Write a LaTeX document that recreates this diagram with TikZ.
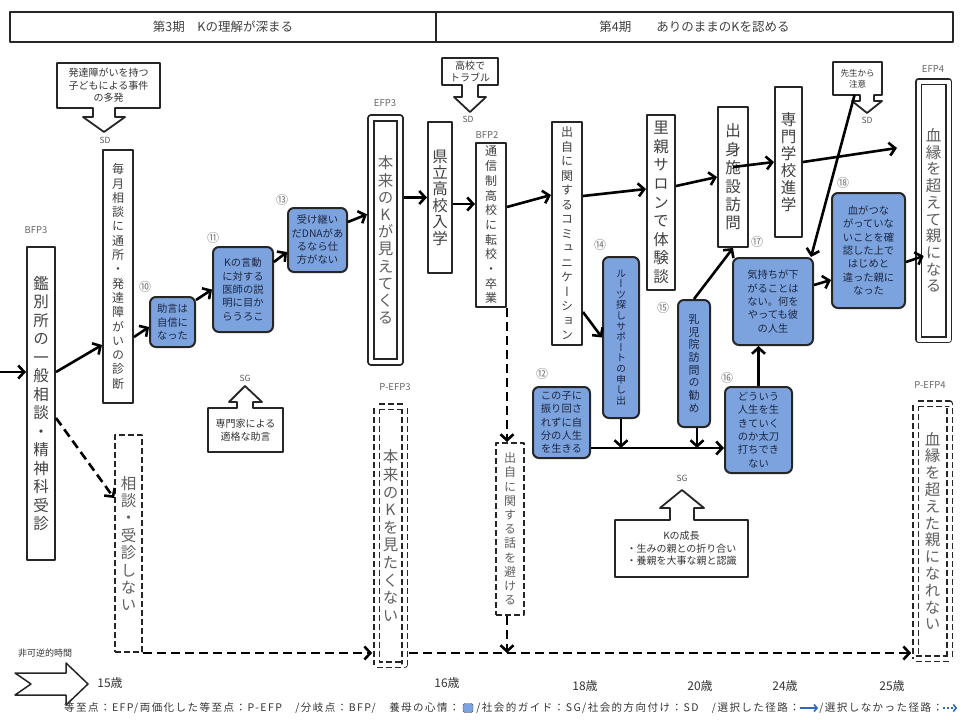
\documentclass[tikz,border=0pt]{standalone}
\usepackage{fontspec}
\setmainfont{Noto Sans CJK JP}
\newfontfamily\vjp[RawFeature=+vert]{Noto Sans CJK JP}
\newfontfamily\lgfont[LetterSpace=14]{Noto Sans CJK JP}
\usetikzlibrary{arrows.meta,positioning}
\definecolor{boxblue}{RGB}{124,163,222}
\definecolor{inkblue}{RGB}{28,38,66}
\definecolor{efpgray}{RGB}{95,95,95}
\definecolor{lgblue}{RGB}{46,105,190}
% Text von oben nach unten
\makeatletter
\newcommand\tate[2][14pt]{\vbox{\baselineskip=#1\relax\lineskiplimit=-50pt\lineskip=0pt\tate@#2\@nil}}
\def\tate@#1{\ifx#1\@nil\else\hbox to 1em{\hss\vjp#1\hss}\expandafter\tate@\fi}
\makeatother
\begin{document}
\begin{tikzpicture}[x=1pt, y=-1pt, line join=round,
  period/.style={draw=black!85, line width=1.5pt, minimum height=30pt, inner sep=0pt, text=black!75, font=\fontsize{12.5}{13}\selectfont},
  wbox/.style={draw=black!85, line width=2pt, fill=white, inner sep=0pt, text=black!75, font=\fontsize{12}{12}\selectfont},
  bigtext/.style={font=\fontsize{15.5}{16}\selectfont},
  bluebox/.style={draw=black!85, line width=2pt, fill=boxblue, rounded corners=6pt, inner sep=0pt, text=inkblue, font=\fontsize{10.3}{13.3}\selectfont},
  bbox/.style={bluebox, align=center},
  efp/.style={draw=black!85, double, double distance=4pt, line width=1.6pt, inner sep=0pt, text=efpgray},
  pefp/.style={efp, dash pattern=on 6pt off 3pt},
  nobox/.style={wbox, dash pattern=on 6pt off 3pt, text=efpgray},
  callout/.style={draw=black!85, line width=1.8pt, fill=white},
  note/.style={align=center, inner sep=0pt, text=black!80, font=\fontsize{10}{12.5}\selectfont},
  tag/.style={text=black!65, inner sep=0pt, font=\fontsize{8.5}{9}\selectfont},
  fp/.style={text=black!60, inner sep=0pt, font=\fontsize{9.5}{10}\selectfont},
  num/.style={text=black!55, inner sep=0pt, font=\fontsize{12}{12}\selectfont},
  age/.style={text=black!80, inner sep=0pt, font=\fontsize{12}{12}\selectfont},
  legend/.style={text=black!80, inner sep=0pt, font=\lgfont\fontsize{10.5}{10.5}\selectfont},
  arr/.style={line width=2.6pt, -{Straight Barb[length=6pt, width=13pt]}},
  darr/.style={arr, dash pattern=on 9pt off 5pt},
]
\useasboundingbox (0,0) rectangle (962,720);

% Kopfzeile
\node[period, minimum width=426pt] (p3) at (223,27) {第3期　Kの理解が深まる};
\node[period, minimum width=517pt] (p4) at (694.5,27) {第4期　　ありのままのKを認める};

% SD / SG
\draw[callout] (57,63) -- (160,63) -- (160,108) -- (115,108) -- (115,117) -- (125,117) -- (104,132)
  -- (83,117) -- (93,117) -- (93,108) -- (57,108) -- cycle;
\node[note, minimum width=103pt, minimum height=45pt] (sdincident) at (108.5,85.5) {発達障がいを持つ\\子どもによる事件\\の多発};
\node[tag] (sd1) at (105,140) {SD};
\draw[callout] (442,58) -- (498,58) -- (498,85) -- (478,85) -- (478,97) -- (486,97) -- (470,112)
  -- (454,97) -- (462,97) -- (462,85) -- (442,85) -- cycle;
\node[note, minimum width=56pt, minimum height=27pt] (sdtrouble) at (470,71.5) {高校で\\トラブル};
\node[tag] (sd2) at (468,119) {SD};
\draw[callout] (833,62) -- (882,62) -- (882,95) -- (874,95) -- (874,101) -- (882,101) -- (867,113)
  -- (852,101) -- (860,101) -- (860,95) -- (833,95) -- cycle;
\node[note, font=\fontsize{8.5}{11}\selectfont, minimum width=49pt, minimum height=33pt] (sdteacher) at (857.5,78.5) {先生から\\注意};
\node[tag] (sd3) at (867,120) {SD};
\draw[callout] (208,408) -- (237,408) -- (237,402) -- (229,402) -- (245,386) -- (262,402) -- (253,402)
  -- (253,408) -- (283,408) -- (283,452) -- (208,452) -- cycle;
\node[note, minimum width=75pt, minimum height=44pt] (sgexpert) at (245.5,430) {専門家による\\適格な助言};
\node[tag] (sg1) at (245,378) {SG};
\draw[callout] (615,520) -- (670,520) -- (670,508) -- (660,508) -- (682,490) -- (704,508) -- (694,508)
  -- (694,520) -- (748,520) -- (748,577) -- (615,577) -- cycle;
\node[note, minimum width=133pt, minimum height=57pt] (sggrowth) at (681.5,548.5) {Kの成長\\・生みの親との折り合い\\・養親を大事な親と認識};
\node[tag] (sg2) at (682,478) {SG};

% Stationen
\node[wbox, bigtext, minimum width=28pt, minimum height=313pt] (bfp3) at (41,403.5) {\tate[18.5pt]{鑑別所の一般相談・精神科受診}};
\node[wbox, minimum width=30pt, minimum height=253pt] (monthly) at (118,276.5) {\tate[14.3pt]{毎月相談に通所・発達障がいの診断}};
\node[bbox, minimum width=45pt, minimum height=50pt] (advice) at (172.5,322) {助言は\\自信に\\なった};
\node[bbox, minimum width=60pt, minimum height=85pt] (explain) at (243,289.5) {Kの言動\\に対する\\医師の説\\明に目か\\らうろこ};
\node[bbox, minimum width=59pt, minimum height=64pt] (dna) at (317.5,240) {受け継い\\だDNAがあ\\るなら仕\\方がない};
\node[efp, bigtext, minimum width=29pt, minimum height=244pt] (efp3) at (385.5,240) {\tate[17.2pt]{本来のKが見えてくる}};
\node[wbox, bigtext, minimum width=24pt, minimum height=151pt] (kenritsu) at (440,197.5) {\tate[16.4pt]{県立高校入学}};
\node[wbox, minimum width=30pt, minimum height=164pt] (bfp2) at (491,225) {\tate[14.7pt]{通信制高校に転校・卒業}};
\node[wbox, minimum width=30pt, minimum height=223pt] (comm) at (567,233.5) {\tate[14.5pt]{出自に関するコミュニケーション}};
\node[wbox, bigtext, minimum width=28pt, minimum height=175pt] (salon) at (661,202.5) {\tate[18.6pt]{里親サロンで体験談}};
\node[wbox, bigtext, minimum width=30pt, minimum height=140pt] (visit) at (733,177) {\tate[18.4pt]{出身施設訪問}};
\node[wbox, bigtext, minimum width=27pt, minimum height=150pt] (senmon) at (788.5,162) {\tate[17pt]{専門学校進学}};
\node[efp, bigtext, minimum width=30pt, minimum height=258pt] (efp4) at (933.5,210.5) {\tate[16.7pt]{血縁を超えて親になる}};
\node[bbox, minimum width=57pt, minimum height=71pt] (konoko) at (561.5,422.5) {この子に\\振り回さ\\れずに自\\分の人生\\を生きる};
\node[bluebox, font=\fontsize{10}{10}\selectfont, minimum width=36pt, minimum height=161pt] (roots) at (621,337.5) {\tate[10.6pt]{ルーツ探しサポートの申し出}};
\node[bluebox, font=\fontsize{11}{11}\selectfont, minimum width=32pt, minimum height=127pt] (nyuji) at (694,363.5) {\tate[12.7pt]{乳児院訪問の勧め}};
\node[bbox, minimum width=67pt, minimum height=86pt] (douiu) at (758.5,430) {どういう\\人生を生\\きていく\\のか太刀\\打ちでき\\ない};
\node[bbox, minimum width=80pt, minimum height=87pt] (kimochi) at (773,301.5) {気持ちが下\\がることは\\ない。何を\\やっても彼\\の人生};
\node[bbox, minimum width=73pt, minimum height=115pt] (chi) at (868.5,250.5) {血がつな\\がっていな\\いことを確\\認した上で\\はじめと\\違った親に\\なった};
\node[nobox, bigtext, minimum width=27pt, minimum height=217pt] (nokonsul) at (128.5,543.5) {\tate[17.4pt]{相談・受診しない}};
\node[pefp, bigtext, minimum width=28pt, minimum height=258pt] (pefp3) at (390.5,535.5) {\tate[17.6pt]{本来のKを見たくない}};
\node[nobox, minimum width=28pt, minimum height=172pt] (avoid) at (510,529) {\tate[14.2pt]{出自に関する話を避ける}};
\node[pefp, bigtext, minimum width=34pt, minimum height=255pt] (pefp4) at (932.5,531) {\tate[16.8pt]{血縁を超えた親になれない}};

% Bezeichnungen
\node[fp] (lbfp3) at (36,230) {BFP3};
\node[fp] (lefp3) at (385,103) {EFP3};
\node[fp] (lbfp2) at (487,135) {BFP2};
\node[fp] (lefp4) at (933,69) {EFP4};
\node[fp] (lpefp3) at (395,387) {P-EFP3};
\node[fp] (lpefp4) at (930,385) {P-EFP4};
\node[num] (n10) at (145,287) {⑩};
\node[num] (n11) at (213,238) {⑪};
\node[num] (n13) at (282,200) {⑬};
\node[num] (n12) at (542,374) {⑫};
\node[num] (n14) at (600,245) {⑭};
\node[num] (n15) at (663,308) {⑮};
\node[num] (n16) at (727,378) {⑯};
\node[num] (n17) at (757,242) {⑰};
\node[num] (n18) at (843,183) {⑱};

% gewählte Pfade
\coordinate (entry) at (0,372);
\draw[arr] (entry) -- ([yshift=31.5pt]bfp3.west);
\draw[arr] ([yshift=31.5pt]bfp3.east) -- ([yshift=-68.5pt]monthly.west);
\draw[arr] ([yshift=-60.5pt]monthly.east) -- ([yshift=-5pt]advice.west);
\draw[arr] ([yshift=22pt]advice.east) -- (explain.west);
\draw[arr] ([yshift=27.5pt]explain.east) -- ([yshift=-12pt]dna.west);
\draw[arr, shorten >=3.5pt] ([yshift=18pt]dna.east) -- ([yshift=27pt]efp3.west);
\draw[arr, shorten <=3.5pt] (efp3.east |- kenritsu.west) -- (kenritsu.west);
\draw[arr] ([yshift=-6.5pt]kenritsu.east) -- ([yshift=21pt]bfp2.west);
\draw[arr] ([yshift=18pt]bfp2.east) -- ([yshift=38.5pt]comm.west);
\draw[arr] ([yshift=37.5pt]comm.east) -- ([yshift=13.5pt]salon.west);
\draw[arr] ([yshift=16.5pt]salon.east) -- (visit.west);
\draw[arr] ([yshift=10pt]visit.center) -- (senmon.west);
\coordinate (toefp4) at (897,148);
\draw[arr] (senmon.east) -- (toefp4);
\draw[arr] ([xshift=-3pt]sdteacher.south) -- ([xshift=-3pt]kimochi.north east);
\draw[arr] ([yshift=16.5pt]kimochi.east) -- ([yshift=-29.5pt]chi.west);
\draw[arr] ([yshift=-11.5pt]chi.east) -- ([xshift=6pt, yshift=-45.5pt]efp4.west);
\draw[arr] ([yshift=-78.5pt]comm.east) -- (roots.west);
\coordinate (merge) at ([yshift=-25.5pt]konoko.east);
\draw[arr] (merge) -- (douiu.west |- merge);
\draw[arr] (roots.south) -- (roots.south |- merge);
\draw[arr] ([xshift=3pt]nyuji.south) -- ([xshift=3pt]nyuji.south |- merge);
\draw[arr] (nyuji.north) -- (visit.south);
\draw[arr] (douiu.north) -- (douiu.north |- kimochi.south);

% nicht gewählte Pfade
\coordinate (floor) at (nokonsul.south east);
\draw[darr] ([yshift=-14.5pt]bfp3.east) -- ([yshift=45.5pt]nokonsul.west);
\draw[darr] (bfp2.south east) -- (bfp2.south east |- avoid.north);
\draw[darr] (bfp2.south east |- avoid.south) -- (bfp2.south east |- floor);
\draw[darr, shorten >=3.5pt] (floor) -- (pefp3.west |- floor);
\draw[darr, shorten <=3.5pt, shorten >=3.5pt] (pefp3.east |- floor) -- (pefp4.west |- floor);

% Zeitachse und Legende
\draw[callout, line width=1.5pt] (15,673) -- (66,673) -- (66,663) -- (88,684) -- (66,705) -- (66,695)
  -- (15,695) -- (31,684) -- cycle;
\node[text=black!80, inner sep=0pt, font=\fontsize{9}{9}\selectfont] (irrev) at (45,653) {非可逆的時間};
\node[age] (a15) at (110,683) {15歳};
\node[age] (a16) at (447,683) {16歳};
\node[age] (a18) at (585,686) {18歳};
\node[age] (a20) at (700,686) {20歳};
\node[age] (a24) at (785,686) {24歳};
\node[age] (a25) at (892,686) {25歳};
\node[legend, anchor=west] (lg1) at (64,708) {等至点：EFP/両価化した等至点：P-EFP　/分岐点：BFP/　養母の心情：};
\node[draw=black!70, fill=boxblue, rounded corners=1.5pt, minimum width=10pt, minimum height=9pt, inner sep=0pt, right=3pt of lg1] (lgsq) {};
\node[legend, right=3pt of lgsq] (lg2) {/社会的ガイド：SG/社会的方向付け：SD　/選択した径路：};
\coordinate[right=18pt of lg2] (lgend1);
\draw[line width=1.6pt, lgblue, -{Straight Barb[length=3pt, width=7pt]}] (lg2.east) -- (lgend1);
\node[legend, right=1pt of lgend1] (lg3) {/選択しなかった径路：};
\coordinate[right=14pt of lg3] (lgend2);
\draw[line width=1.6pt, lgblue, dash pattern=on 2pt off 2pt, -{Straight Barb[length=3pt, width=7pt]}] (lg3.east) -- (lgend2);
\end{tikzpicture}
\end{document}
